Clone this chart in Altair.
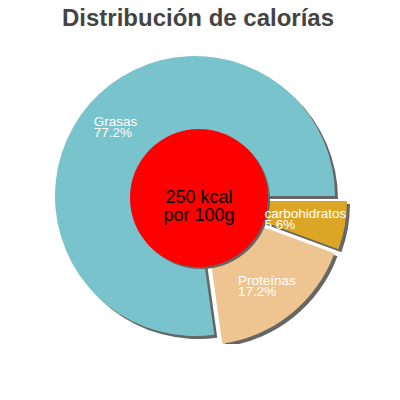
import math
import altair as alt
import pandas as pd

categories = ["carbohidratos", "Proteínas", "Grasas"]
values = [5.6, 17.2, 77.2]
order = [0, 1, 2]
colors = ["#dba626", "#eec591", "#79c3cc"]
kcal = 250
per_unit = "por 100g"
title_text = "Distribución de calorías"

df = pd.DataFrame({"cat": categories, "value": values, "order": order})

# style: explode offsets and half-width of first label line (for left-aligned block)
offsets = {"carbohidratos": (12, 5), "Proteínas": (8, 9), "Grasas": (0, 0)}
half_w = {"carbohidratos": 46, "Proteínas": 31, "Grasas": 22}

PI = math.pi
tscale = alt.Scale(domain=[0, 100], range=[PI / 2, PI / 2 + 2 * PI])
FONT = "Liberation Sans"
LFS = 13.5
W, H = 374, 296

base = (
    alt.Chart(df)
    .transform_window(cum="sum(value)", sort=[alt.SortField("order")])
    .transform_calculate(
        start="datum.cum - datum.value",
        mid="datum.cum - datum.value / 2",
        pct="format(datum.value, '.1f') + '%'",
    )
)

cscale = alt.Scale(domain=categories, range=colors)

shadows, slices, labels = [], [], []
for c in categories:
    dx, dy = offsets[c]
    hw = half_w[c]
    f = base.transform_filter(alt.datum.cat == c)
    shadows.append(
        f.mark_arc(radius=140, xOffset=dx + 3, yOffset=dy + 3, color="#666666").encode(
            theta=alt.Theta("start:Q", scale=tscale, stack=None),
            theta2="cum:Q",
        )
    )
    slices.append(
        f.mark_arc(radius=140, xOffset=dx, yOffset=dy).encode(
            theta=alt.Theta("start:Q", scale=tscale, stack=None),
            theta2="cum:Q",
            color=alt.Color("cat:N", scale=cscale, legend=None),
        )
    )
    for field, yo in (("cat", -1.5), ("pct", 9.5)):
        labels.append(
            f.mark_text(
                radius=105, xOffset=dx - hw, yOffset=dy + yo, color="white", font=FONT,
                fontSize=LFS, align="left", baseline="alphabetic",
            ).encode(
                theta=alt.Theta("mid:Q", scale=tscale, stack=None),
                text=alt.Text(f"{field}:N"),
            )
        )

agg = (
    alt.Chart(df)
    .transform_aggregate(total="sum(value)")
    .transform_calculate(
        z="0",
        center=f"'{kcal} kcal\\n{per_unit}'",
    )
)

circle_shadow = agg.mark_arc(radius=69, xOffset=6, yOffset=4, color="#666666").encode(
    theta=alt.Theta("z:Q", scale=tscale, stack=None), theta2="total:Q"
)
circle = agg.mark_arc(radius=69, xOffset=4, yOffset=2, color="#ff0000").encode(
    theta=alt.Theta("z:Q", scale=tscale, stack=None), theta2="total:Q"
)
center_text = agg.mark_text(
    radius=0, xOffset=4, yOffset=2, color="black", font=FONT, fontSize=18,
    lineHeight=18, align="center", baseline="middle", lineBreak="\n",
).encode(theta=alt.Theta("z:Q", scale=tscale, stack=None), text="center:N")

title = (
    alt.Chart(pd.DataFrame({"t": [title_text]}))
    .mark_text(font=FONT, fontSize=24, fontWeight="bold", color="#444444",
               align="center", baseline="alphabetic")
    .encode(x=alt.value(W / 2 + 3), y=alt.value(-22), text="t:N")
)

chart = (
    alt.layer(*shadows, *slices, circle_shadow, circle, center_text, *labels, title)
    .properties(
        width=W,
        height=H,
        autosize=alt.AutoSizeParams(type="none"),
        padding={"left": 0, "top": 40, "right": 0, "bottom": 0},
    )
    .configure_view(stroke=None)
)

chart.save("out.html", embed_options={"renderer": "svg", "actions": False})
